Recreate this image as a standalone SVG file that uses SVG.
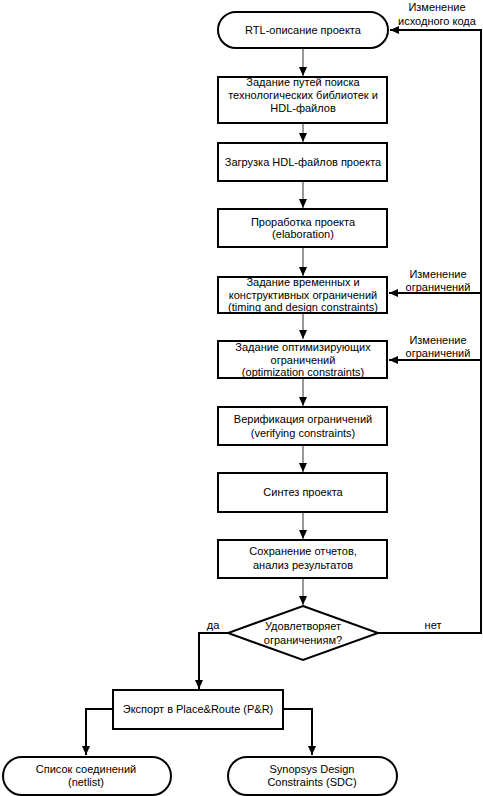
<svg xmlns="http://www.w3.org/2000/svg" width="483" height="796" viewBox="0 0 483 796">
<defs>
<marker id="ah" markerWidth="10" markerHeight="8" refX="9" refY="4" orient="auto" markerUnits="userSpaceOnUse">
<path d="M0,0 L9,4 L0,8 Z" fill="#000"/>
</marker>
<style>
.box{fill:#fff;stroke:#000;stroke-width:2}
.t{font-family:"Liberation Sans",Arial,sans-serif;font-size:11px;fill:#000;text-anchor:middle}
.thin{fill:none;stroke:#333;stroke-width:1}
.thick{fill:none;stroke:#000;stroke-width:2}
</style>
</defs>
<rect width="483" height="796" fill="#fff"/>
<g id="connectors">
<path class="thin" d="M303,48 V76" marker-end="url(#ah)"/>
<path class="thin" d="M303,123 V142" marker-end="url(#ah)"/>
<path class="thin" d="M303,181 V208" marker-end="url(#ah)"/>
<path class="thin" d="M303,247 V276" marker-end="url(#ah)"/>
<path class="thin" d="M303,313 V339" marker-end="url(#ah)"/>
<path class="thin" d="M303,378 V406" marker-end="url(#ah)"/>
<path class="thin" d="M303,445 V472" marker-end="url(#ah)"/>
<path class="thin" d="M303,512 V539" marker-end="url(#ah)"/>
<path class="thin" d="M303,578 V605" marker-end="url(#ah)"/>
<path class="thick" d="M378,633 H481 V30 H390" marker-end="url(#ah)"/>
<path class="thick" d="M481,293 H389" marker-end="url(#ah)"/>
<path class="thick" d="M481,360 H389" marker-end="url(#ah)"/>
<path class="thick" d="M228,633 H199 V689" marker-end="url(#ah)"/>
<path class="thick" d="M113,709 H86 V755" marker-end="url(#ah)"/>
<path class="thick" d="M283,709 H312 V755" marker-end="url(#ah)"/>
<text class="t" x="437" y="11">Изменение</text>
<text class="t" x="437" y="25">исходного кода</text>
<text class="t" x="438" y="278">Изменение</text>
<text class="t" x="438" y="291">ограничений</text>
<text class="t" x="438" y="344">Изменение</text>
<text class="t" x="438" y="357">ограничений</text>
<text class="t" x="213" y="629">да</text>
<text class="t" x="433" y="629">нет</text>
</g>
<g id="n1">
<rect class="box" x="218" y="12" width="170" height="36" rx="18"/>
<text class="t" x="303" y="34">RTL-описание проекта</text>
</g>
<g id="n2">
<rect class="box" x="218" y="77" width="169" height="46"/>
<text class="t" x="303" y="86">Задание путей поиска</text>
<text class="t" x="303" y="99">технологических библиотек и</text>
<text class="t" x="303" y="112">HDL-файлов</text>
</g>
<g id="n3">
<rect class="box" x="218" y="143" width="169" height="38"/>
<text class="t" x="303" y="166">Загрузка HDL-файлов проекта</text>
</g>
<g id="n4">
<rect class="box" x="218" y="209" width="169" height="38"/>
<text class="t" x="303" y="226">Проработка проекта</text>
<text class="t" x="303" y="238">(elaboration)</text>
</g>
<g id="n5">
<rect class="box" x="218" y="277" width="169" height="36"/>
<text class="t" x="303" y="286">Задание временных и</text>
<text class="t" x="303" y="299">конструктивных ограничений</text>
<text class="t" x="303" y="311">(timing and design constraints)</text>
</g>
<g id="n6">
<rect class="box" x="218" y="341" width="169" height="37"/>
<text class="t" x="303" y="351">Задание оптимизирующих</text>
<text class="t" x="303" y="364">ограничений</text>
<text class="t" x="303" y="376">(optimization constraints)</text>
</g>
<g id="n7">
<rect class="box" x="218" y="407" width="169" height="38"/>
<text class="t" x="303" y="423">Верификация ограничений</text>
<text class="t" x="303" y="437">(verifying constraints)</text>
</g>
<g id="n8">
<rect class="box" x="218" y="473" width="169" height="39"/>
<text class="t" x="303" y="496">Синтез проекта</text>
</g>
<g id="n9">
<rect class="box" x="218" y="540" width="169" height="38"/>
<text class="t" x="303" y="555">Сохранение отчетов,</text>
<text class="t" x="303" y="569">анализ результатов</text>
</g>
<g id="n10">
<polygon class="box" points="303,606 378,633 303,660 228,633"/>
<text class="t" x="303" y="630">Удовлетворяет</text>
<text class="t" x="303" y="644">ограничениям?</text>
</g>
<g id="n11">
<rect class="box" x="113" y="690" width="170" height="39"/>
<text class="t" x="198" y="713">Экспорт в Place&amp;Route (P&amp;R)</text>
</g>
<g id="n12">
<rect class="box" x="3" y="757" width="168" height="38" rx="19"/>
<text class="t" x="86" y="773">Список соединений</text>
<text class="t" x="86" y="786">(netlist)</text>
</g>
<g id="n13">
<rect class="box" x="228" y="757" width="169" height="38" rx="19"/>
<text class="t" x="312" y="773">Synopsys Design</text>
<text class="t" x="312" y="786">Constraints (SDC)</text>
</g>
</svg>
